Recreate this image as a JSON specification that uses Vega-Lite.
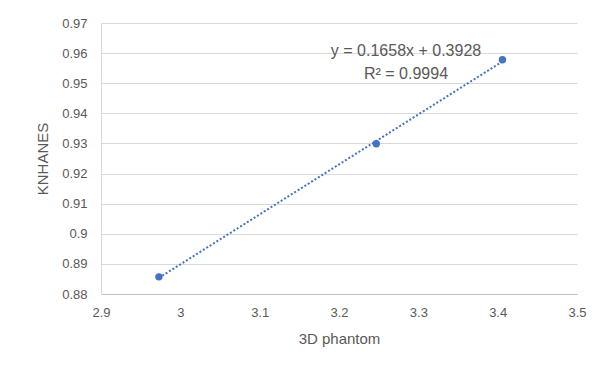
{
  "$schema": "https://vega.github.io/schema/vega-lite/v6.json",
  "autosize": {"type": "none"},
  "width": 476,
  "height": 271,
  "padding": {"left": 101, "top": 23, "right": 23, "bottom": 73},
  "background": "white",
  "config": {
    "font": "Liberation Sans",
    "view": {"stroke": null},
    "axis": {
      "labelColor": "#595959",
      "titleColor": "#595959",
      "labelFont": "Liberation Sans",
      "titleFont": "Liberation Sans",
      "labelFontSize": 13,
      "titleFontSize": 15,
      "titleFontWeight": "normal",
      "gridColor": "#d9d9d9",
      "domainColor": "#bfbfbf",
      "ticks": false,
      "labelFlush": false,
      "labelOverlap": false
    }
  },
  "datasets": {
    "pts": [
      {"phantom": 2.973, "knhanes": 0.8857},
      {"phantom": 3.247, "knhanes": 0.9299},
      {"phantom": 3.406, "knhanes": 0.9578}
    ],
    "notes": [
      {"phantom": 3.2845, "knhanes": 0.9607, "label": "y = 0.1658x + 0.3928"},
      {"phantom": 3.2845, "knhanes": 0.9531, "label": "R² = 0.9994"}
    ]
  },
  "encoding": {
    "x": {
      "field": "phantom", "type": "quantitative",
      "scale": {"domain": [2.9, 3.5], "nice": false, "zero": false},
      "axis": {"title": "3D phantom", "values": [2.9, 3.0, 3.1, 3.2, 3.3, 3.4, 3.5], "format": "~g", "labelPadding": 12, "titlePadding": 12, "grid": false}
    },
    "y": {
      "field": "knhanes", "type": "quantitative",
      "scale": {"domain": [0.88, 0.97], "nice": false, "zero": false},
      "axis": {"title": "KNHANES", "values": [0.88, 0.89, 0.9, 0.91, 0.92, 0.93, 0.94, 0.95, 0.96, 0.97], "format": "~g", "labelPadding": 14, "titlePadding": 11, "grid": true, "domainColor": "#d9d9d9"}
    }
  },
  "layer": [
    {
      "data": {"name": "pts"},
      "transform": [{"regression": "knhanes", "on": "phantom", "method": "linear"}],
      "mark": {"type": "line", "color": "#4472C4", "strokeWidth": 2, "strokeDash": [2, 2], "clip": true}
    },
    {
      "data": {"name": "pts"},
      "mark": {"type": "circle", "color": "#4472C4", "opacity": 1, "size": 55}
    },
    {
      "data": {"name": "notes"},
      "mark": {"type": "text", "color": "#595959", "fontSize": 16, "align": "center", "baseline": "middle"},
      "encoding": {
        "text": {"field": "label"}
      }
    }
  ]
}
